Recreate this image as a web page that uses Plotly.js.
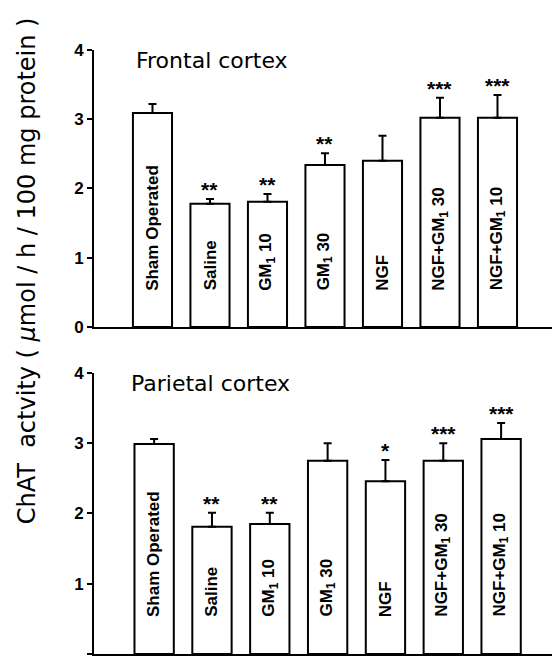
<!DOCTYPE html>
<html>
<head>
<meta charset="utf-8">
<script src="https://cdn.plot.ly/plotly-3.0.1.min.js"></script>
<style>html,body{margin:0;padding:0;background:#fff;}#chart{width:552px;height:663px;}</style>
</head>
<body>
<div id="chart"></div>
<script>
// Data
const groups = ["Sham Operated", "Saline", "GM<sub>1</sub> 10", "GM<sub>1</sub> 30", "NGF", "NGF+GM<sub>1</sub> 30", "NGF+GM<sub>1</sub> 10"];
const frontalMean = [3.09, 1.78, 1.81, 2.34, 2.40, 3.02, 3.02];
const frontalSE   = [0.13, 0.07, 0.11, 0.17, 0.36, 0.29, 0.33];
const frontalSig  = ["", "**", "**", "**", "", "***", "***"];
const parietalMean = [2.99, 1.81, 1.85, 2.75, 2.46, 2.75, 3.06];
const parietalSE   = [0.07, 0.20, 0.16, 0.25, 0.30, 0.25, 0.23];
const parietalSig  = ["", "**", "**", "", "*", "***", "***"];
const panelTitles = ["Frontal cortex", "Parietal cortex"];
const yTitle = "ChAT  actvity ( <i>μ</i>mol / h / 100 mg protein )";
const yTicks = [0, 1, 2, 3, 4];

const xs = groups.map((g, i) => i);

function barTrace(mean, se, xa, ya) {
  return {
    type: 'bar', x: xs, y: mean, xaxis: xa, yaxis: ya,
    width: 0.68,
    marker: {color: '#ffffff', line: {color: '#000', width: 2}},
    error_y: {type: 'data', array: se, arrayminus: se.map(() => 0), symmetric: false,
              color: '#000', thickness: 2, width: 4},
    hoverinfo: 'none', showlegend: false
  };
}

const data = [
  barTrace(frontalMean, frontalSE, 'x', 'y'),
  barTrace(parietalMean, parietalSE, 'x2', 'y2')
];

const annotations = [];
function addPanel(mean, se, sig, xr, yr, title, titleX) {
  groups.forEach((g, i) => {
    annotations.push({
      x: i, y: 0.5, xref: xr, yref: yr, text: '<b>' + g + '</b>', textangle: -90,
      showarrow: false, xanchor: 'center', yanchor: 'bottom',
      font: {family: 'Liberation Sans, Arial', size: 17, color: '#000'}
    });
    if (sig[i]) {
      annotations.push({
        x: i, y: mean[i] + se[i], xref: xr, yref: yr, text: '<b>' + sig[i] + '</b>',
        showarrow: false, xanchor: 'center', yanchor: 'bottom', yshift: -4,
        font: {family: 'Liberation Sans, Arial', size: 21, color: '#000'}
      });
    }
  });
  annotations.push({
    x: titleX, y: 3.85, xref: xr, yref: yr, text: title, showarrow: false,
    xanchor: 'left', yanchor: 'middle',
    font: {family: 'DejaVu Sans', size: 22, color: '#000'}
  });
}
addPanel(frontalMean, frontalSE, frontalSig, 'x', 'y', panelTitles[0], -0.32);
addPanel(parietalMean, parietalSE, parietalSig, 'x2', 'y2', panelTitles[1], -0.44);

annotations.push({
  x: -0.146, y: 0.597, xref: 'paper', yref: 'paper', text: yTitle, textangle: -90,
  showarrow: false, xanchor: 'center', yanchor: 'middle',
  font: {family: 'DejaVu Sans', size: 24, color: '#000'}
});

const yaxisBase = {
  range: [0, 4], tickvals: yTicks, ticktext: yTicks.map(v => '<b>' + v + '</b>'),
  ticks: 'outside', ticklen: 5, tickwidth: 2, tickcolor: '#000',
  showline: true, linecolor: '#000', linewidth: 2, showgrid: false, zeroline: false,
  tickfont: {family: 'Liberation Sans, Arial', size: 17, color: '#000'},
  fixedrange: true
};
const xaxisBase = {
  showline: true, linecolor: '#000', linewidth: 2, showgrid: false, zeroline: false,
  ticks: '', showticklabels: false, fixedrange: true
};

const layout = {
  width: 552, height: 663,
  margin: {l: 94, r: 0, t: 10, b: 5},
  paper_bgcolor: '#fff', plot_bgcolor: '#fff',
  xaxis: Object.assign({}, xaxisBase, {range: [-1.017, 6.948], anchor: 'y'}),
  yaxis: Object.assign({}, yaxisBase, {domain: [0.5108, 0.9383], anchor: 'x'}),
  xaxis2: Object.assign({}, xaxisBase, {range: [-1.04, 6.88], anchor: 'y2'}),
  yaxis2: Object.assign({}, yaxisBase, {domain: [0.0062, 0.4398], anchor: 'x2'}),
  annotations: annotations,
  bargap: 0.32
};

Plotly.newPlot('chart', data, layout, {displayModeBar: false, staticPlot: true});
</script>
</body>
</html>
